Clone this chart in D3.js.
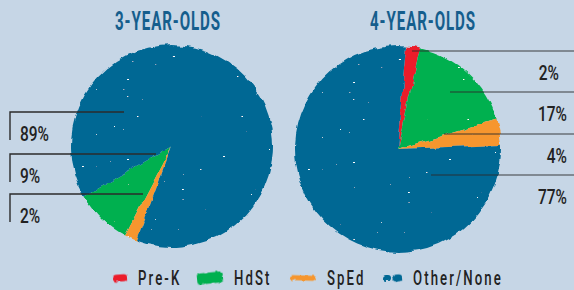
<!DOCTYPE html>
<html>
<head>
<meta charset="utf-8">
<script src="https://cdn.jsdelivr.net/npm/d3@7"></script>
<style>
html, body { margin: 0; padding: 0; background: #c6d6e6; }
svg { display: block; }
text { font-family: Roboto, "Open Sans", sans-serif; }
</style>
</head>
<body>
<svg id="chart"></svg>
<script>
// data
const categories = ["Pre-K", "HdSt", "SpEd", "Other/None"];
const threeYearOlds = [0, 9, 2, 89];
const fourYearOlds = [2, 17, 4, 77];
const colors = ["#ec1c2a", "#00b04f", "#f6962e", "#006894"];
const titles = ["3-YEAR-OLDS", "4-YEAR-OLDS"];

const width = 574, height = 290;

// layout for each pie (angles in degrees, clockwise from 12 o'clock)
const pies = [
    { title: titles[0], values: threeYearOlds, cx: 172, cy: 146, r: 101, start: 240, dir: -1, titleX: 168, side: "left",
      labels: [{ cat: 3, y: 112, x1: 124 }, { cat: 1, y: 154, x1: 156 }, { cat: 2, y: 194, x1: 143 }] },
    { title: titles[1], values: fourYearOlds, cx: 398, cy: 149, r: 103, start: 5, dir: 1, titleX: 423, side: "right",
      labels: [{ cat: 0, y: 51, x1: 412, tx: 559 }, { cat: 1, y: 92, x1: 450 }, { cat: 2, y: 134, x1: 444 }, { cat: 3, y: 175, x1: 431 }] }
];

const svg = d3.select("#chart").attr("width", width).attr("height", height);

// squeeze a text horizontally so that it reads like the condensed face of the original
function condense(sel, x, y, k) {
    sel.attr("x", 0).attr("y", 0).attr("transform", `translate(${x},${y}) scale(${k},1)`);
}
function fitFactor(sel, target) {
    return target / sel.node().getComputedTextLength();
}

// rough marker texture: wobbly edges + a few white specks
const defs = svg.append("defs");
const tex = defs.append("filter").attr("id", "tex")
    .attr("x", "-10%").attr("y", "-10%").attr("width", "120%").attr("height", "120%");
tex.append("feTurbulence").attr("type", "fractalNoise").attr("baseFrequency", 0.07)
    .attr("numOctaves", 3).attr("seed", 4).attr("result", "warp");
tex.append("feDisplacementMap").attr("in", "SourceGraphic").attr("in2", "warp").attr("scale", 6)
    .attr("xChannelSelector", "R").attr("yChannelSelector", "G").attr("result", "shape");
tex.append("feTurbulence").attr("type", "fractalNoise").attr("baseFrequency", "0.22 0.4")
    .attr("numOctaves", 1).attr("seed", 11).attr("result", "spk");
tex.append("feColorMatrix").attr("in", "spk").attr("type", "matrix")
    .attr("values", "0 0 0 0 1  0 0 0 0 1  0 0 0 0 1  30 0 0 0 -23.1").attr("result", "dots");
tex.append("feComposite").attr("in", "dots").attr("in2", "shape").attr("operator", "in").attr("result", "dotsIn");
const merge = tex.append("feMerge");
merge.append("feMergeNode").attr("in", "shape");
merge.append("feMergeNode").attr("in", "dotsIn");

const rough = defs.append("filter").attr("id", "rough")
    .attr("x", "-20%").attr("y", "-50%").attr("width", "140%").attr("height", "200%");
rough.append("feTurbulence").attr("type", "fractalNoise").attr("baseFrequency", 0.25)
    .attr("numOctaves", 2).attr("seed", 2).attr("result", "n");
rough.append("feDisplacementMap").attr("in", "SourceGraphic").attr("in2", "n").attr("scale", 3)
    .attr("xChannelSelector", "R").attr("yChannelSelector", "G");

const rad = Math.PI / 180;
let titleK = null, labelK = null;

pies.forEach(p => {
    const pie = d3.pie().sort(null)
        .startAngle(p.start * rad)
        .endAngle((p.start + p.dir * 360) * rad);
    const arc = d3.arc().innerRadius(0).outerRadius(p.r);
    const arcs = pie(p.values);

    svg.append("g")
        .attr("transform", `translate(${p.cx},${p.cy})`)
        .attr("filter", "url(#tex)")
        .selectAll("path")
        .data(arcs)
        .join("path")
        .attr("d", arc)
        .attr("fill", (d, i) => colors[i]);

    const t = svg.append("text")
        .attr("text-anchor", "middle")
        .attr("fill", "#155e8d")
        .attr("font-size", 25)
        .attr("font-weight", 700)
        .attr("letter-spacing", 1.5)
        .text(p.title);
    if (titleK === null) titleK = fitFactor(t, 106);
    condense(t, p.titleX, 30, titleK);

    const lab = svg.append("g");
    p.labels.forEach(l => {
        const txt = `${p.values[l.cat]}%`;
        let s;
        if (p.side === "left") {
            lab.append("path")
                .attr("d", `M${l.x1},${l.y}H10V${l.y + 28}`)
                .attr("fill", "none").attr("stroke", "#2b2b2b").attr("stroke-width", 1.4);
            s = lab.append("text").attr("font-size", 21).attr("font-weight", 500)
                .attr("fill", "#222").text(txt);
            if (labelK === null) labelK = fitFactor(s, 29);
            condense(s, 20, l.y + 29, labelK);
        } else {
            lab.append("line")
                .attr("x1", l.x1).attr("x2", width).attr("y1", l.y).attr("y2", l.y)
                .attr("stroke", "#2b2b2b").attr("stroke-opacity", 0.6).attr("stroke-width", 1.6);
            s = lab.append("text").attr("text-anchor", "end")
                .attr("font-size", 21).attr("font-weight", 500)
                .attr("fill", "#222").text(txt);
            condense(s, l.tx || 567, l.y + 29, labelK);
        }
    });
});

// legend
const legendX = [113, 197, 290, 383];
const swatch = [
    [{ w: 14, h: 7, dx: 0, rot: -4 }],
    [{ w: 26, h: 11, dx: 0, rot: -6 }],
    [{ w: 26, h: 5, dx: 0, rot: 2 }],
    [{ w: 8, h: 6, dx: 0, rot: 0 }, { w: 9, h: 7, dx: 10, rot: -5 }]
];
const legend = svg.append("g").attr("transform", "translate(0,278)");
// fit the factor on the longest entry, then use it for all of them
const probe = legend.append("text").attr("font-size", 20).attr("font-weight", 500)
    .attr("letter-spacing", 3.2).text(categories[3]);
const legendK = fitFactor(probe, 90);
probe.remove();
categories.forEach((c, i) => {
    const g = legend.append("g").attr("transform", `translate(${legendX[i]},0)`);
    swatch[i].forEach(s => {
        g.append("rect")
            .attr("x", s.dx).attr("y", -s.h / 2)
            .attr("width", s.w).attr("height", s.h)
            .attr("rx", Math.min(3, s.h / 2))
            .attr("fill", colors[i])
            .attr("filter", "url(#rough)")
            .attr("transform", `rotate(${s.rot},${s.dx + s.w / 2},0)`);
    });
    const last = swatch[i][swatch[i].length - 1];
    const t = g.append("text")
        .attr("font-size", 20)
        .attr("font-weight", 500)
        .attr("letter-spacing", 3.2)
        .attr("fill", "#222")
        .text(c);
    condense(t, last.dx + last.w + 11, 7, legendK);
});
</script>
</body>
</html>
